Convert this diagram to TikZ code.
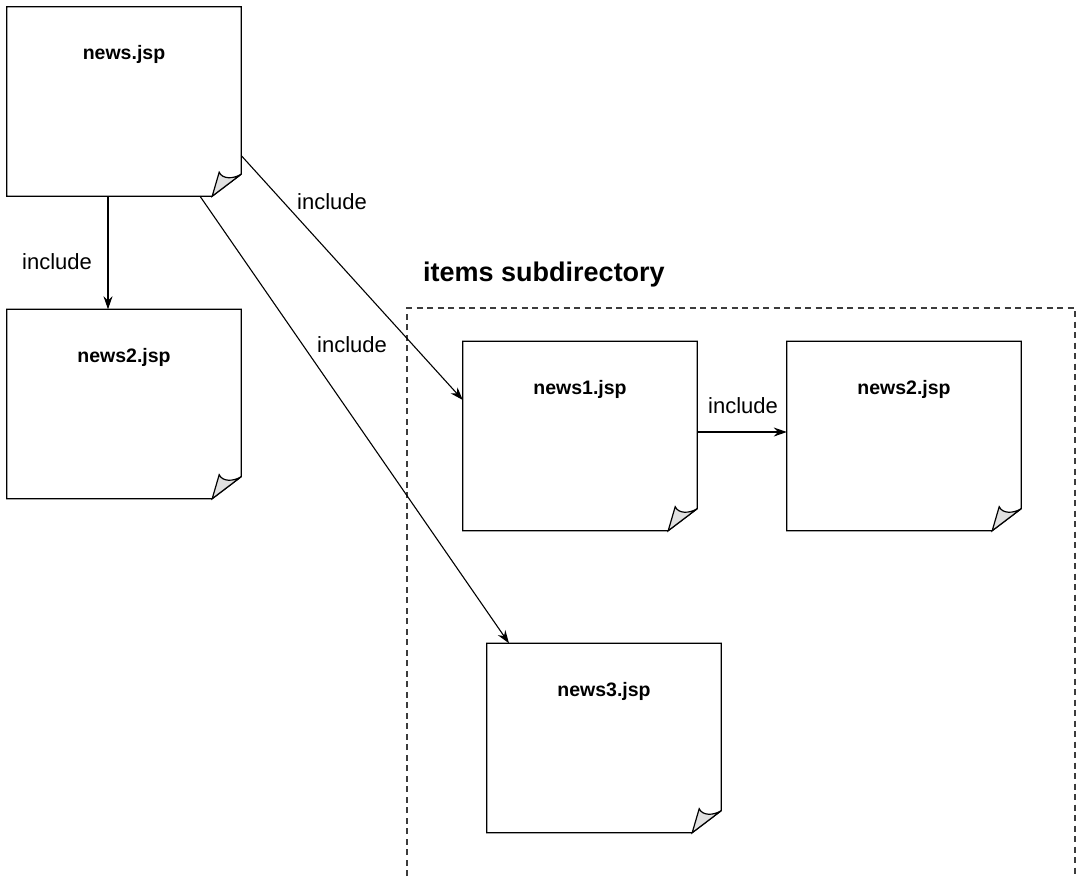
\documentclass[tikz,border=0pt]{standalone}
\usepackage{fontspec}
\setmainfont{Liberation Sans}
\usetikzlibrary{arrows.meta,calc}
\definecolor{curlgray}{RGB}{225,225,225}
\definecolor{dashgray}{RGB}{60,60,60}
\tikzset{
  pagebox/.style={draw=none, inner sep=0pt, minimum width=234pt, minimum height=189pt},
  pageline/.style={line width=1.2pt, line join=miter},
  pagelabel/.style={font=\fontsize{19.5}{22}\selectfont\bfseries},
  inclabel/.style={font=\fontsize{22}{26}\selectfont, inner sep=0pt},
  arr/.style={line width=1.1pt, -{Stealth[length=13pt,width=9pt]}},
  dirbox/.style={line width=1.1pt, draw=dashgray, dash pattern=on 6pt off 4.5pt},
}
\newcommand\jsppage[3]{%
  \node[pagebox] (#1) at #2 {};
  \draw[pageline, fill=white] (#1.north west) -- (#1.north east) -- ([yshift=22pt]#1.south east) -- ([xshift=-29pt]#1.south east) -- (#1.south west) -- cycle;
  \draw[pageline, fill=curlgray] ([xshift=-29pt]#1.south east) -- ([xshift=-22pt,yshift=24pt]#1.south east) .. controls ([xshift=-19pt,yshift=17pt]#1.south east) and ([xshift=-8pt,yshift=17pt]#1.south east) .. ([yshift=22pt]#1.south east) -- cycle;
  \node[pagelabel] (#1-label) at ([yshift=-48pt]#1.north) {#3};
}
\begin{document}
\begin{tikzpicture}[x=1pt,y=-1pt]
\useasboundingbox (0,0) rectangle (1081,876);
% directory frame
\coordinate (dirbl) at (407,876);
\coordinate (dirtl) at (407,308);
\coordinate (dirtr) at (1075,308);
\coordinate (dirbr) at (1075,876);
\draw[dirbox] (dirbl) -- (dirtl) -- (dirtr) -- (dirbr);
\node[font=\fontsize{27}{32}\selectfont\bfseries, inner sep=0pt] (dirtitle) at (544,275) {items subdirectory};
% pages
\jsppage{news}{(124,101.5)}{news.jsp}
\jsppage{newsb}{(124,404)}{news2.jsp}
\jsppage{newsa}{(580,436)}{news1.jsp}
\jsppage{newsc}{(904,436)}{news2.jsp}
\jsppage{newsd}{(604,738)}{news3.jsp}
% connectors
\draw[arr] ([xshift=-16pt]news.south) -- ([xshift=-16pt]newsb.north);
\draw[arr] ([yshift=-54pt]news.east) -- ([yshift=36pt]newsa.west);
\draw[arr] ([xshift=76pt]news.south) -- ([xshift=-95pt]newsd.north);
\draw[arr] ([yshift=4pt]newsa.east) -- ([yshift=4pt]newsc.west);
% labels
\node[inclabel] (l1) at (57,262) {include};
\node[inclabel] (l2) at (332,202) {include};
\node[inclabel] (l3) at (352,345) {include};
\node[inclabel] (l4) at (743,406) {include};
\end{tikzpicture}
\end{document}
